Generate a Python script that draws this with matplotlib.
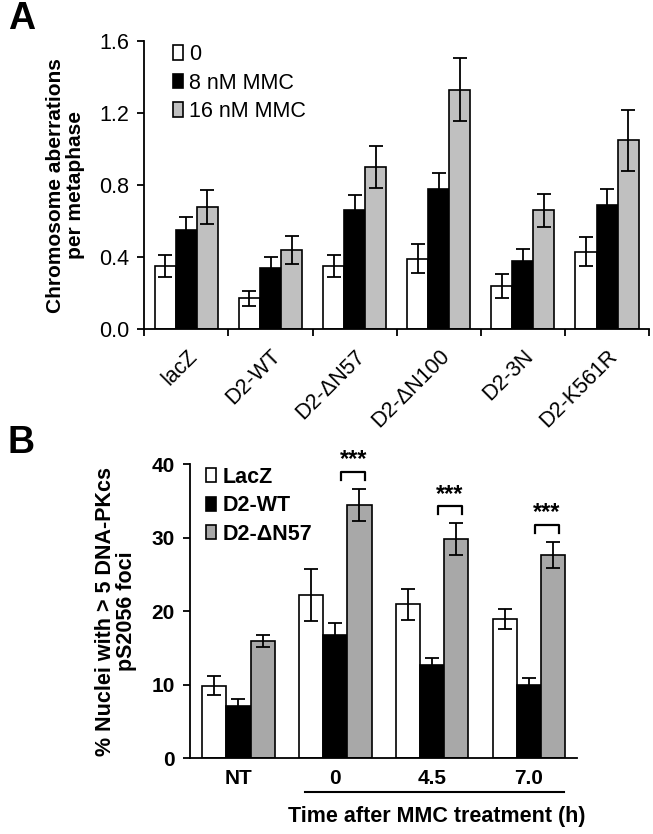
import numpy as np
import matplotlib.pyplot as plt
from matplotlib.transforms import blended_transform_factory

plt.rcParams['font.family'] = ['Liberation Sans', 'DejaVu Sans']

# panel A: chromosome aberrations per metaphase
constructs = ['lacZ', 'D2-WT', 'D2-ΔN57', 'D2-ΔN100', 'D2-3N', 'D2-K561R']
doses = ['0', '8 nM MMC', '16 nM MMC']
aber_0 = [0.35, 0.17, 0.35, 0.39, 0.24, 0.43]
aber_0_err = [0.06, 0.04, 0.06, 0.08, 0.065, 0.08]
aber_8 = [0.55, 0.34, 0.66, 0.78, 0.38, 0.69]
aber_8_err = [0.075, 0.06, 0.085, 0.09, 0.065, 0.09]
aber_16 = [0.68, 0.44, 0.90, 1.33, 0.66, 1.05]
aber_16_err = [0.095, 0.08, 0.115, 0.175, 0.09, 0.17]

# panel B: % nuclei with > 5 DNA-PKcs pS2056 foci
times = ['NT', '0', '4.5', '7.0']
cells = ['LacZ', 'D2-WT', 'D2-ΔN57']
lacz = [9.85, 22.2, 20.9, 18.9]
lacz_err = [1.3, 3.55, 2.15, 1.4]
d2wt = [7.1, 16.7, 12.6, 10.0]
d2wt_err = [0.9, 1.7, 1.05, 0.85]
d2dn57 = [15.9, 34.4, 29.8, 27.6]
d2dn57_err = [0.85, 2.2, 2.15, 1.8]
sig_groups = [1, 2, 3]
sig_text = '***'

colors_a = ['white', 'black', '#c0c0c0']
colors_b = ['white', 'black', '#a8a8a8']

fig = plt.figure(figsize=(6.53, 8.34), dpi=100)

# ---------------- A ----------------
ax1 = fig.add_axes([0.221, 0.6055, 0.773, 0.345])
w = 0.25
x = np.arange(len(constructs))
series_a = [(aber_0, aber_0_err), (aber_8, aber_8_err), (aber_16, aber_16_err)]
for i, (vals, errs) in enumerate(series_a):
    ax1.bar(x + (i - 1) * w, vals, w, color=colors_a[i], edgecolor='black',
            linewidth=1.2, label=doses[i], zorder=2)
    ax1.errorbar(x + (i - 1) * w, vals, yerr=errs, fmt='none', ecolor='black',
                 elinewidth=1.3, capsize=5, capthick=1.3, zorder=3)
ax1.set_xlim(-0.5, len(constructs) - 0.5)
ax1.set_ylim(0, 1.6)
ax1.set_yticks([0.0, 0.4, 0.8, 1.2, 1.6])
ax1.set_yticklabels(['0.0', '0.4', '0.8', '1.2', '1.6'], fontsize=15.5)
ax1.set_xticks(np.arange(len(constructs) + 1) - 0.5)
ax1.set_xticklabels([])
ax1.set_xticks(x, minor=True)
ax1.set_xticklabels(constructs, minor=True, rotation=45, ha='right',
                    rotation_mode='anchor', fontsize=15.5)
ax1.tick_params(axis='x', which='minor', length=0, pad=12)
ax1.tick_params(axis='both', which='major', direction='out', length=5, width=1.3)
ax1.tick_params(axis='y', pad=6)
for s in ['top', 'right']:
    ax1.spines[s].set_visible(False)
for s in ['left', 'bottom']:
    ax1.spines[s].set_linewidth(1.3)
ax1.set_ylabel('Chromosome aberrations\nper metaphase', fontsize=15,
               fontweight='bold', labelpad=10, linespacing=1.05)
ax1.legend(loc='upper left', bbox_to_anchor=(0.04, 1.02), frameon=False,
           fontsize=15.5, handlelength=0.45, handleheight=0.65,
           handletextpad=0.3, labelspacing=0.35, borderaxespad=0)
fig.text(0.012, 0.977, 'A', fontsize=27, fontweight='bold', va='center')

# ---------------- B ----------------
ax2 = fig.add_axes([0.291, 0.0911, 0.593, 0.3525])
xb = np.arange(len(times))
series_b = [(lacz, lacz_err), (d2wt, d2wt_err), (d2dn57, d2dn57_err)]
for i, (vals, errs) in enumerate(series_b):
    ax2.bar(xb + (i - 1) * w, vals, w, color=colors_b[i], edgecolor='black',
            linewidth=1.2, label=cells[i], zorder=2)
    ax2.errorbar(xb + (i - 1) * w, vals, yerr=errs, fmt='none', ecolor='black',
                 elinewidth=1.3, capsize=5, capthick=1.3, zorder=3)
for g in sig_groups:
    top = d2dn57[g] + d2dn57_err[g] + 2.3
    x0, x1 = xb[g] + 0.06, xb[g] + w + 0.06
    ax2.plot([x0, x0, x1, x1], [top - 1.1, top, top, top - 1.1], color='black',
             linewidth=1.6, zorder=3)
    ax2.text((x0 + x1) / 2, top + 0.1, sig_text, ha='center', va='bottom',
             fontsize=17, fontweight='bold')
ax2.set_xlim(-0.5, len(times) - 0.5)
ax2.set_ylim(0, 40)
ax2.set_yticks([0, 10, 20, 30, 40])
ax2.set_xticks(xb)
ax2.set_xticklabels(times, fontsize=15, fontweight='bold')
for lab in ax2.get_yticklabels():
    lab.set_fontsize(15)
    lab.set_fontweight('bold')
ax2.tick_params(axis='x', length=0, pad=8)
ax2.tick_params(axis='y', direction='out', length=5, width=1.3, pad=6)
for s in ['top', 'right']:
    ax2.spines[s].set_visible(False)
for s in ['left', 'bottom']:
    ax2.spines[s].set_linewidth(1.3)
ax2.set_ylabel('% Nuclei with > 5 DNA-PKcs\npS2056 foci', fontsize=15.5,
               fontweight='bold', labelpad=10, linespacing=1.05)
ax2.legend(loc='upper left', bbox_to_anchor=(0.02, 1.02), frameon=False,
           prop={'size': 15.5, 'weight': 'bold'}, handlelength=0.45,
           handleheight=0.65, handletextpad=0.3, labelspacing=0.35,
           borderaxespad=0)
trans = blended_transform_factory(ax2.transData, ax2.transAxes)
ax2.plot([0.69, 3.36], [-0.115, -0.115], color='black', linewidth=1.5,
         transform=trans, clip_on=False)
ax2.text(2.05, -0.2, 'Time after MMC treatment (h)', transform=trans,
         ha='center', va='center', fontsize=15.5, fontweight='bold')
fig.text(0.012, 0.469, 'B', fontsize=27, fontweight='bold', va='center')

fig.savefig('out.png', dpi=100)
